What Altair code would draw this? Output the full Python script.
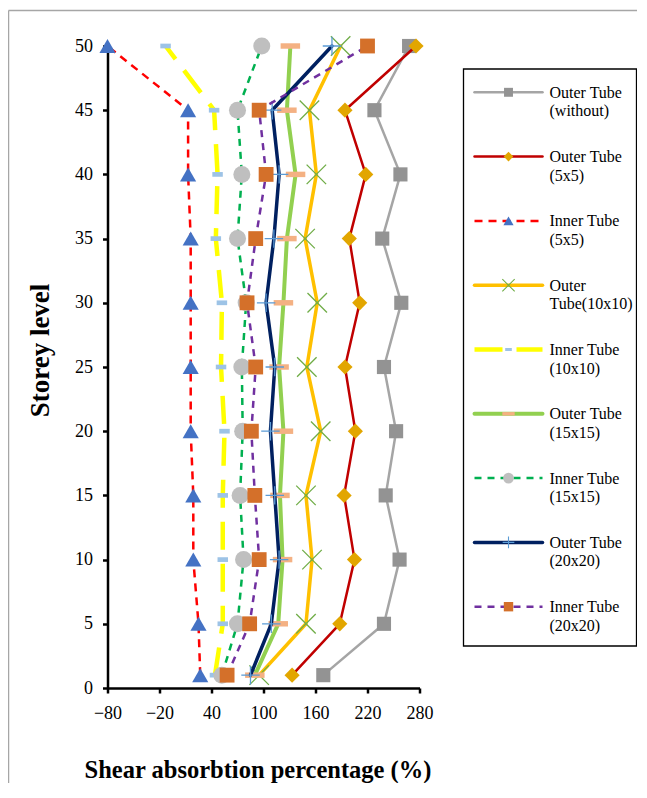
import altair as alt
import pandas as pd

# ---- data ----
storey = [1, 5, 10, 15, 20, 25, 30, 35, 40, 45, 50]
outer_without = [169, 239, 257, 241, 253, 239, 259, 237, 258, 228, 268]
outer_5x5 = [133, 188, 205, 193, 206, 194, 211, 199, 218, 194, 276]
inner_5x5 = [27, 25, 19, 19, 16, 16, 16, 16, 13, 13, -80]
outer_10x10 = [95, 149, 156, 149, 166, 150, 162, 148, 161, 153, 189]
inner_10x10 = [44, 53, 53, 53, 55, 51, 52, 45, 47, 43, -13]
outer_15x15 = [90, 117, 122, 119, 123, 118, 123, 127, 137, 127, 131]
inner_15x15 = [52, 70, 77, 73, 76, 75, 80, 70, 75, 70, 98]
outer_20x20 = [85, 109, 118, 113, 108, 113, 103, 112, 118, 110, 179]
inner_20x20 = [58, 84, 95, 90, 86, 91, 81, 91, 103, 95, 220]

series_names = [
    "Outer Tube\n(without)", "Outer Tube\n(5x5)", "Inner Tube\n(5x5)",
    "Outer\nTube(10x10)", "Inner Tube\n(10x10)", "Outer Tube\n(15x15)",
    "Inner Tube\n(15x15)", "Outer Tube\n(20x20)", "Inner Tube\n(20x20)",
]
series_values = [outer_without, outer_5x5, inner_5x5, outer_10x10, inner_10x10,
                 outer_15x15, inner_15x15, outer_20x20, inner_20x20]
x_ticks = [-80, -20, 40, 100, 160, 220, 280]
y_ticks = [0, 5, 10, 15, 20, 25, 30, 35, 40, 45, 50]

# ---- styles ----
X_PATH = "M-1,-1L1,1M-1,1L1,-1"
PLUS_PATH = "M-1,0L1,0M0,-1L0,1"
DASH_S = "M-1,-0.45L1,-0.45L1,0.45L-1,0.45Z"
DASH_L = "M-1,-0.28L1,-0.28L1,0.28L-1,0.28Z"
styles = [
    dict(line="#a5a5a5", w=2.5, dash=None, shape="square", mcol="#939393", size=200, filled=True),
    dict(line="#c00000", w=2.5, dash=None, shape="diamond", mcol="#e2a600", size=230, filled=True),
    dict(line="#ff0000", w=2.5, dash=[8, 6], shape="triangle-up", mcol="#4472c4", size=260, filled=True),
    dict(line="#ffc000", w=3.5, dash=None, shape=X_PATH, mcol="#70ad47", size=380, filled=False),
    dict(line="#ffff00", w=4.5, dash=[28, 14], shape=DASH_S, mcol="#9dc3e6", size=110, filled=True),
    dict(line="#92d050", w=4.0, dash=None, shape=DASH_L, mcol="#f4b183", size=380, filled=True),
    dict(line="#00b050", w=2.5, dash=[7, 6], shape="circle", mcol="#bfbfbf", size=290, filled=True),
    dict(line="#002060", w=3.5, dash=None, shape=PLUS_PATH, mcol="#5b9bd5", size=340, filled=False),
    dict(line="#7030a0", w=2.5, dash=[7, 6], shape="square", mcol="#d4702a", size=220, filled=True),
]

FONT = "Liberation Serif"

x_axis = alt.Axis(values=x_ticks, title="Shear absorbtion percentage (%)",
                  titleFont=FONT, titleFontSize=24.5, titleFontWeight="bold", titleColor="black",
                  titleX=150, titleY=89, titleBaseline="alphabetic",
                  labelFont=FONT, labelFontSize=18, labelColor="black", labelPadding=11,
                  labelFlush=False, labelOverlap=False, grid=False,
                  domainColor="black", domainWidth=2.5, tickColor="black", tickWidth=2.5, tickSize=5)
y_axis = alt.Axis(values=y_ticks, title="Storey level",
                  titleFont=FONT, titleFontSize=27, titleFontWeight="bold", titleColor="black",
                  titleX=-59, titleY=304, titleBaseline="alphabetic", titleAngle=270,
                  labelFont=FONT, labelFontSize=18, labelColor="black", labelPadding=10,
                  labelFlush=False, labelOverlap=False, grid=False,
                  domainColor="black", domainWidth=2.5, tickColor="black", tickWidth=2.5, tickSize=5)

xs = alt.Scale(domain=[-80, 280], nice=False, zero=False)
ys = alt.Scale(domain=[0, 50], nice=False, zero=False)

frame_df = pd.DataFrame({"k": [0]})
layers = [
    alt.Chart(frame_df).mark_rule(color="#a6a6a6", strokeWidth=1.5).encode(
        x=alt.value(-99), y=alt.value(-35.5), y2=alt.value(740)),
    alt.Chart(frame_df).mark_rule(color="#a6a6a6", strokeWidth=1.5).encode(
        x=alt.value(-99), x2=alt.value(545), y=alt.value(-35.5)),
]

for name, vals, st in zip(series_names, series_values, styles):
    df = pd.DataFrame({"storey": storey, "value": vals})
    lk = dict(color=st["line"], strokeWidth=st["w"], strokeJoin="round")
    if st["dash"]:
        lk["strokeDash"] = st["dash"]
    else:
        lk["strokeCap"] = "round"
    base = alt.Chart(df)
    line = base.mark_line(**lk).encode(
        x=alt.X("value:Q", scale=xs, axis=x_axis),
        y=alt.Y("storey:Q", scale=ys, axis=y_axis),
        order="storey:Q")
    pk = dict(shape=st["shape"], size=st["size"], opacity=1, filled=st["filled"], color=st["mcol"])
    if not st["filled"]:
        pk["strokeWidth"] = 1.3
    pts = base.mark_point(**pk).encode(
        x=alt.X("value:Q", scale=xs, axis=x_axis),
        y=alt.Y("storey:Q", scale=ys, axis=y_axis))
    layers += [line, pts]

# ---- legend (drawn) ----
layers.append(alt.Chart(frame_df).mark_rect(fill="white", stroke="black", strokeWidth=1.3).encode(
    x=alt.value(356), x2=alt.value(529), y=alt.value(23), y2=alt.value(600)))
for i, (name, st) in enumerate(zip(series_names, styles)):
    yi = 46.3 + 64.3 * i
    ldf = pd.DataFrame({"label": [name]})
    lk = dict(color=st["line"], strokeWidth=st["w"])
    if st["dash"]:
        lk["strokeDash"] = st["dash"]
    else:
        lk["strokeCap"] = "round"
    layers.append(alt.Chart(ldf).mark_rule(**lk).encode(
        x=alt.value(367), x2=alt.value(435), y=alt.value(yi)))
    pk = dict(shape=st["shape"], size=st["size"] * 0.4, opacity=1, filled=st["filled"], color=st["mcol"])
    if not st["filled"]:
        pk["strokeWidth"] = 1.1
    layers.append(alt.Chart(ldf).mark_point(**pk).encode(x=alt.value(401), y=alt.value(yi)))
    layers.append(alt.Chart(ldf).mark_text(
        font=FONT, fontSize=16, color="black", align="left", baseline="alphabetic",
        dy=5.5, lineBreak="\n", lineHeight=18.5).encode(
        x=alt.value(442), y=alt.value(yi), text="label:N"))

chart = alt.layer(*layers).properties(
    width=312, height=642,
    autosize=alt.AutoSizeParams(type="none"),
    padding={"left": 99.5, "top": 38, "right": 217.5, "bottom": 95},
).configure_view(stroke=None)

chart.save("out.html", embed_options={"renderer": "svg", "actions": False})
